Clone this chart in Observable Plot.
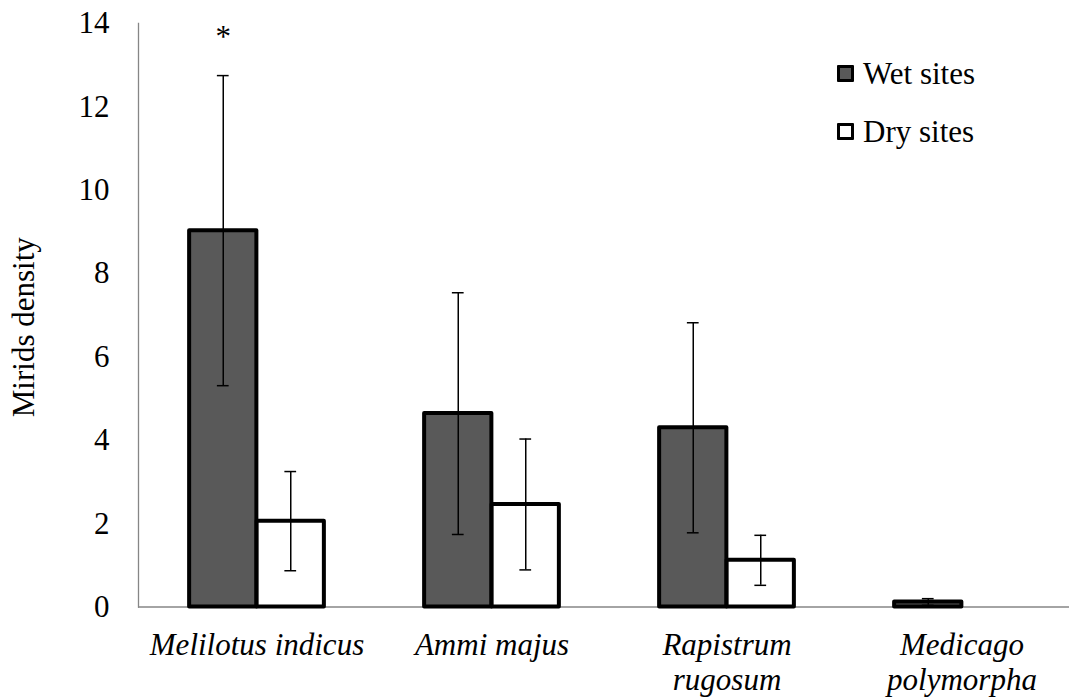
<!DOCTYPE html>
<html>
<head>
<meta charset="utf-8">
<script src="https://cdn.jsdelivr.net/npm/d3@7"></script>
<script src="https://cdn.jsdelivr.net/npm/@observablehq/plot@0.6"></script>
<style>
  html, body { margin: 0; padding: 0; background: #fff; }
  #wrap { position: relative; width: 1069px; height: 700px; font-family: "Liberation Serif", "Times New Roman", Times, Tinos, "Noto Serif", "DejaVu Serif", serif; }
  #legend { position: absolute; left: 837px; top: 48px; font-size: 31px; color: #000; }
  .row { display: flex; align-items: center; height: 51px; margin-bottom: 7px; }
  .sw { width: 17px; height: 17px; box-sizing: border-box; border: 3.5px solid #000; margin-right: 9px; border-radius: 1px; }
  svg text { font-family: "Liberation Serif", "Times New Roman", Times, Tinos, "Noto Serif", "DejaVu Serif", serif; }
  g[aria-label="x-axis tick label"] text { font-style: italic; }
</style>
</head>
<body>
<div id="wrap">
  <div id="chart"></div>
  <div id="legend"></div>
</div>
<script>
// ---- data ----
const categories = ["Melilotus indicus", "Ammi majus", "Rapistrum rugosum", "Medicago polymorpha"];
const xLabels = ["Melilotus indicus", "Ammi majus", "Rapistrum\nrugosum", "Medicago\npolymorpha"];
const seriesNames = ["Wet sites", "Dry sites"];
const wetMean = [9.03, 4.64, 4.30, 0.12];
const wetErr  = [3.72, 2.90, 2.52, 0.08];
const dryMean = [2.06, 2.46, 1.12, 0];
const dryErr  = [1.19, 1.57, 0.60, 0];
const significance = ["*", "", "", ""];
const yTicks = [0, 2, 4, 6, 8, 10, 12, 14];

// ---- layout ----
const W = 1069, H = 700;
const mL = 138, mT = 23, mB = 93.5;
const xRange = [138, 1079];
const step = (xRange[1] - xRange[0]) / categories.length;
const barW = 67.5;
const outer = (step - 2 * barW) / 2;
const capHalf = 6;
const wetFill = "#595959";
const fontFam = "'Liberation Serif', 'Times New Roman', Times, Tinos, 'Noto Serif', 'DejaVu Serif', serif";

const rows = categories.map((c, i) => ({
  cat: c,
  wet: wetMean[i], wetLo: wetMean[i] - wetErr[i], wetHi: wetMean[i] + wetErr[i],
  dry: dryMean[i], dryLo: dryMean[i] - dryErr[i], dryHi: dryMean[i] + dryErr[i],
  sig: significance[i]
}));
const dryRows = rows.filter(d => d.dry > 0 || d.dryHi > 0);

const chart = Plot.plot({
  width: W, height: H,
  marginLeft: mL, marginRight: 0, marginTop: mT, marginBottom: mB,
  style: { fontFamily: fontFam, fontSize: "31px", color: "#000", background: "#fff" },
  x: { domain: categories, range: xRange, padding: 0, axis: null },
  y: { domain: [0, 14], axis: null },
  marks: [
    Plot.ruleY([0], { stroke: "#868686", strokeWidth: 1.3 }),
    Plot.frame({ anchor: "left", stroke: "#868686", strokeWidth: 1.3 }),
    Plot.axisY({ ticks: yTicks, tickSize: 0, tickPadding: 29, fontSize: 31, label: null, fill: "#000" }),
    Plot.axisX({
      tickSize: 0, tickPadding: 22, fontSize: 31, fontStyle: "italic", lineHeight: 1.16, label: null, fill: "#000",
      tickFormat: d => xLabels[categories.indexOf(d)]
    }),
    Plot.text(["Mirids density"], {
      frameAnchor: "left", textAnchor: "middle", rotate: -90, dx: -114, dy: 12, fontSize: 31, fill: "#000", text: d => d
    }),
    // bars
    Plot.barY(rows, { x: "cat", y: "wet", fill: wetFill, stroke: "#000", strokeWidth: 4, strokeLinejoin: "round",
      insetLeft: outer, insetRight: outer + barW }),
    Plot.barY(rows, { x: "cat", y: "dry", fill: "#fff", stroke: "#000", strokeWidth: 4, strokeLinejoin: "round",
      insetLeft: outer + barW, insetRight: outer }),
    // error bars, wet
    Plot.ruleX(rows, { x: "cat", y1: "wetLo", y2: "wetHi", dx: -barW / 2, stroke: "#000", strokeWidth: 1.5 }),
    Plot.tickY(rows, { x: "cat", y: "wetHi", dx: -barW / 2, insetLeft: step / 2 - capHalf, insetRight: step / 2 - capHalf, stroke: "#000", strokeWidth: 1.5 }),
    Plot.tickY(rows, { x: "cat", y: "wetLo", dx: -barW / 2, insetLeft: step / 2 - capHalf, insetRight: step / 2 - capHalf, stroke: "#000", strokeWidth: 1.5 }),
    // error bars, dry
    Plot.ruleX(dryRows, { x: "cat", y1: "dryLo", y2: "dryHi", dx: barW / 2, stroke: "#000", strokeWidth: 1.5 }),
    Plot.tickY(dryRows, { x: "cat", y: "dryHi", dx: barW / 2, insetLeft: step / 2 - capHalf, insetRight: step / 2 - capHalf, stroke: "#000", strokeWidth: 1.5 }),
    Plot.tickY(dryRows, { x: "cat", y: "dryLo", dx: barW / 2, insetLeft: step / 2 - capHalf, insetRight: step / 2 - capHalf, stroke: "#000", strokeWidth: 1.5 }),
    // significance mark
    Plot.text(rows.filter(d => d.sig), { x: "cat", y: "wetHi", text: "sig", dx: -barW / 2, dy: -39, fontSize: 31, fill: "#000" })
  ]
});
document.getElementById("chart").appendChild(chart);

// legend
const legend = document.getElementById("legend");
const fills = [wetFill, "#fff"];
seriesNames.forEach((name, i) => {
  const row = document.createElement("div");
  row.className = "row";
  const sw = document.createElement("div");
  sw.className = "sw";
  sw.style.background = fills[i];
  const t = document.createElement("span");
  t.textContent = name;
  row.appendChild(sw);
  row.appendChild(t);
  legend.appendChild(row);
});
</script>
</body>
</html>
